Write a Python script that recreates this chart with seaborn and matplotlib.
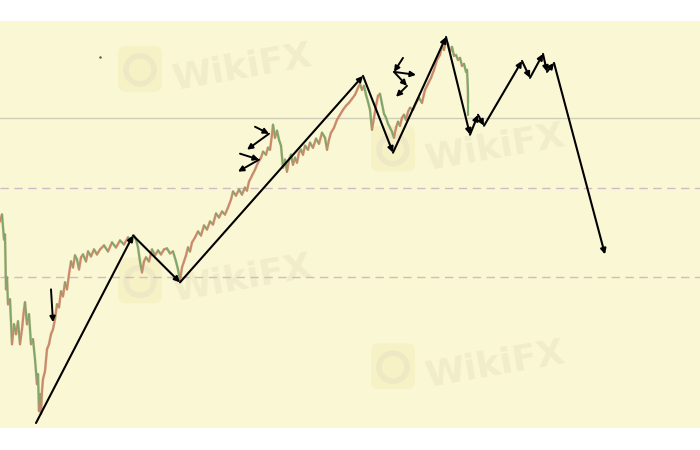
import numpy as np
import pandas as pd
import matplotlib
matplotlib.use('Agg')
import matplotlib.pyplot as plt
import seaborn as sns
from matplotlib.patches import FancyBboxPatch, Circle

# price trace (x position, price level in chart units; axis is inverted like the screen)
price_x = [0, 2, 4, 5, 6, 7, 8, 10, 12, 14, 16, 18, 20, 22, 24, 25, 27, 29, 31, 33, 35, 37, 38, 39, 40,
           41, 42, 43, 45, 47, 49, 51, 53, 55, 57, 59, 61, 63, 65, 67, 69, 71, 73, 75, 77, 79, 81, 83,
           86, 88, 91, 94, 97, 100, 104, 108, 112, 116, 120, 124, 128, 132, 134, 136, 138, 140, 142,
           144, 146, 149, 152, 155, 158, 161, 164, 167, 170, 173, 176, 178, 180, 182, 184, 186, 188,
           190, 192, 195, 198, 201, 204, 207, 210, 213, 216, 219, 222, 225, 228, 231, 233, 236, 239,
           242, 245, 247, 249, 252, 255, 258, 261, 263, 266, 268, 270, 272, 273, 275, 277, 279, 281,
           283, 285, 287, 289, 291, 293, 295, 297, 299, 301, 303, 305, 308, 310, 313, 316, 319, 322,
           325, 327, 329, 331, 334, 337, 340, 343, 346, 349, 352, 355, 358, 360, 362, 364, 366, 368,
           370, 372, 374, 376, 378, 380, 382, 384, 386, 388, 390, 392, 394, 396, 398, 400, 402, 404,
           406, 408, 410, 413, 416, 419, 422, 425, 428, 431, 434, 437, 440, 442, 444, 446, 448, 450,
           452, 454, 456, 458, 460, 462, 464, 466, 467, 468, 468]
price_y = [222, 215, 240, 235, 290, 278, 305, 300, 345, 325, 335, 322, 345, 330, 310, 303, 325, 315, 345,
           340, 360, 385, 375, 412, 395, 415, 392, 380, 372, 350, 345, 335, 330, 320, 305, 308, 292,
           297, 283, 290, 275, 262, 268, 256, 260, 270, 258, 255, 262, 252, 257, 250, 255, 250, 246,
           252, 243, 248, 241, 245, 238, 242, 236, 240, 248, 262, 273, 262, 258, 262, 250, 256, 251,
           255, 250, 249, 254, 252, 262, 270, 281, 268, 262, 256, 248, 252, 243, 238, 232, 236, 226,
           230, 222, 225, 214, 218, 212, 215, 208, 200, 192, 196, 190, 195, 188, 191, 182, 176, 170,
           163, 158, 152, 155, 148, 150, 135, 125, 138, 131, 140, 146, 168, 160, 172, 160, 155, 165,
           158, 163, 153, 150, 155, 146, 150, 143, 148, 139, 144, 133, 138, 150, 140, 133, 128, 120,
           115, 110, 106, 103, 99, 95, 88, 84, 90, 86, 95, 102, 110, 130, 118, 106, 96, 94, 104, 114,
           118, 124, 128, 132, 138, 128, 122, 126, 118, 115, 120, 112, 108, 110, 103, 98, 103, 90, 84,
           78, 70, 60, 55, 46, 50, 40, 44, 52, 47, 56, 55, 60, 58, 66, 64, 72, 70, 90, 115]

# wave count drawn on top
wave_x = [36, 133, 180, 363, 393, 446, 470, 478, 484, 522, 530, 543, 547, 554, 605]
wave_y = [424, 236, 283, 76, 153, 37, 135, 115, 126, 61, 78, 54, 72, 63, 255]

# small hand-drawn arrows: (start, end) pairs
small_arrows = [((51, 290), (53, 323)),
                ((255, 127), (269, 134)), ((269, 134), (247, 150)),
                ((240, 154), (259, 160)), ((259, 160), (238, 172)),
                ((403, 58), (394, 72)), ((394, 72), (416, 75)),
                ((394, 72), (407, 86)), ((407, 86), (396, 97))]

level_solid = [118]
level_dashed = [188, 278]

# watermark anchor points (logo centre)
mark_x = [140, 140, 393, 393]
mark_y = [70, 282, 150, 368]

bg = '#faf8d4'
up_col = '#c98a6c'
dn_col = '#7da86a'

sns.set_theme(style='white')
plt.rcParams['font.family'] = ['DejaVu Sans']

fig = plt.figure(figsize=(7, 4.5), dpi=100)
fig.patch.set_facecolor('white')
ax = fig.add_axes([0, 22 / 450, 1, 407 / 450])
ax.set_facecolor(bg)
ax.set_xlim(0, 700)
ax.set_ylim(429, 21)
for s in ax.spines.values():
    s.set_visible(False)
ax.set_xticks([])
ax.set_yticks([])

# watermarks
for mx, my in zip(mark_x, mark_y):
    ax.add_patch(FancyBboxPatch((mx - 22, my - 24), 44, 46, boxstyle='round,pad=0,rounding_size=8',
                                facecolor='#f7f1c6', edgecolor='none', zorder=1))
    ax.add_patch(Circle((mx, my), 14, facecolor='none', edgecolor='#efe8c4', lw=4, zorder=1))
    ax.text(mx + 30, my - 2, 'WikiFX', fontsize=26, fontweight='bold', color='#f1ecca',
            rotation=10, va='center', ha='left', zorder=1)

# horizontal levels
for lv in level_solid:
    ax.axhline(lv, color='#cfcdb8', lw=1.0, zorder=2)
for lv in level_dashed:
    ax.axhline(lv, color='#d3b9c4', lw=1.0, ls=(0, (6, 4)), zorder=2)

# price trace, coloured by direction
df = pd.DataFrame({'x': price_x, 'y': price_y})
sns.lineplot(data=df, x='x', y='y', sort=False, color=up_col, lw=2.0, alpha=0.35, ax=ax, zorder=3)
for i in range(len(price_x) - 1):
    c = up_col if price_y[i + 1] < price_y[i] else dn_col
    ax.plot(price_x[i:i + 2], price_y[i:i + 2], color=c, lw=1.5, zorder=3)
ax.set_xlabel('')
ax.set_ylabel('')

# wave lines with arrow heads at each turn
for i in range(len(wave_x) - 1):
    ax.annotate('', xy=(wave_x[i + 1], wave_y[i + 1]), xytext=(wave_x[i], wave_y[i]),
                arrowprops=dict(arrowstyle='-|>', color='black', lw=1.5, mutation_scale=8,
                                shrinkA=0, shrinkB=0), zorder=5)

for (x0, y0), (x1, y1) in small_arrows:
    ax.annotate('', xy=(x1, y1), xytext=(x0, y0),
                arrowprops=dict(arrowstyle='-|>', color='black', lw=1.4, mutation_scale=8,
                                shrinkA=0, shrinkB=0), zorder=5)

ax.plot([100], [57], marker='.', color='#555555', ms=1.5, zorder=4)

fig.savefig('out.png', dpi=100, facecolor='white')
